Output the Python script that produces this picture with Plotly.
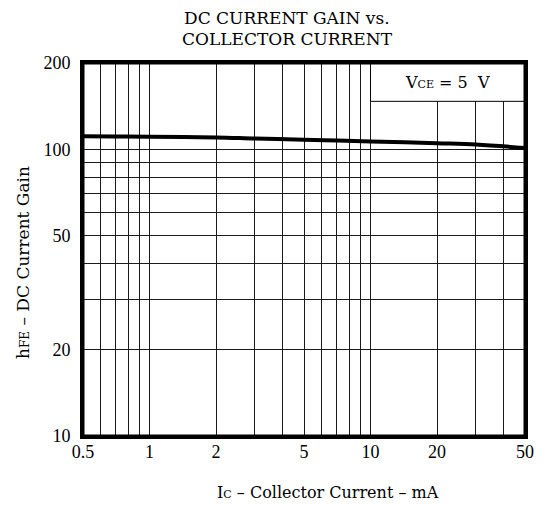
import plotly.graph_objects as go
import numpy as np

# Data
ic_ma = [0.5, 0.7, 1, 2, 3, 5, 7, 10, 20, 30, 50]
hfe = [111, 110.8, 110.5, 110, 109, 108, 107.3, 106.5, 105, 104, 101]

x_ticks = [0.5, 1, 2, 5, 10, 20, 50]
x_tick_text = ["0.5", "1", "2", "5", "10", "20", "50"]
x_minor = [0.6, 0.7, 0.8, 0.9, 3, 4, 6, 7, 8, 9, 30, 40]
y_ticks = [10, 20, 50, 100, 200]
y_tick_text = ["10", "20", "50", "100", "200"]
y_minor = [30, 40, 60, 70, 80, 90]
title_lines = ["DC CURRENT GAIN vs.", "COLLECTOR CURRENT"]

TICKFONT = "Liberation Serif, Times New Roman, serif"
FONT = "DejaVu Serif, Liberation Serif, serif"
GRID = "#1a1a1a"

# plot area in screen pixels (intended)
PL, PR, PT, PB = 82, 524, 62, 435
OFF = 7  # page offset of the rendered figure
PW, PH = PR - PL, PB - PT

def px(x):
    return (x - PL) / PW

def py(y):
    return (PB - y) / PH

fig = go.Figure()
fig.add_trace(go.Scatter(x=ic_ma, y=hfe, mode="lines",
                         line=dict(color="black", width=4, shape="spline"),
                         showlegend=False, hoverinfo="skip"))

xr = [np.log10(0.5), np.log10(50)]
yr = [np.log10(10), np.log10(200)]

fig.update_layout(
    width=555, height=506,
    margin=dict(l=PL - OFF, r=555 - PR + OFF, t=PT - OFF, b=506 - PB + OFF, autoexpand=False),
    paper_bgcolor="white", plot_bgcolor="white",
    font=dict(family=FONT, color="black", size=16),
    xaxis=dict(type="log", range=xr, tickmode="array", tickvals=x_ticks,
               ticktext=x_tick_text, ticks="",
               showgrid=True, gridcolor=GRID,
               gridwidth=1, showline=True, linecolor="black", linewidth=3,
               mirror=True, zeroline=False, automargin=False,
               minor=dict(tickmode="array", tickvals=x_minor, showgrid=True,
                          gridcolor=GRID, gridwidth=1, ticks=""),
               tickfont=dict(family=TICKFONT, size=18)),
    yaxis=dict(type="log", range=yr, tickmode="array", tickvals=y_ticks,
               ticktext=y_tick_text, ticks="outside", ticklen=6, tickcolor="rgba(0,0,0,0)",
               showgrid=True, gridcolor=GRID,
               gridwidth=1, showline=True, linecolor="black", linewidth=3,
               mirror=True, zeroline=False, automargin=False,
               minor=dict(tickmode="array", tickvals=y_minor, showgrid=True,
                          gridcolor=GRID, gridwidth=1, ticks=""),
               tickfont=dict(family=TICKFONT, size=18)),
)
try:
    fig.update_xaxes(ticklabelstandoff=-3)
except Exception:
    pass

# Title (two single-line annotations)
for line, ypx in zip(title_lines, [17, 38]):
    fig.add_annotation(xref="paper", yref="paper", x=px(286), y=py(ypx),
                       text=line, showarrow=False,
                       font=dict(family=FONT, size=17, color="black"),
                       xanchor="center", yanchor="middle", align="center",
                       borderpad=0)
# Axis titles
fig.add_annotation(xref="paper", yref="paper", x=px(327), y=py(492),
                   text="I<span style='font-size:11px'>C</span> – Collector Current – mA",
                   showarrow=False, font=dict(family=FONT, size=16, color="black"),
                   xanchor="center", yanchor="middle")
fig.add_annotation(xref="paper", yref="paper", x=px(22), y=py(262),
                   text="h<span style='font-size:12px'>FE</span> – DC Current Gain",
                   showarrow=False, textangle=-90,
                   font=dict(family=FONT, size=17, color="black"),
                   xanchor="center", yanchor="middle")

# Condition box (upper right), in paper coordinates
bx0 = (np.log10(10) - xr[0]) / (xr[1] - xr[0])
by0 = (np.log10(147) - yr[0]) / (yr[1] - yr[0])
fig.add_shape(type="rect", xref="paper", yref="paper", x0=bx0, x1=1, y0=by0, y1=1,
              fillcolor="white", line=dict(color="black", width=1), layer="above")
fig.add_annotation(xref="paper", yref="paper", x=(bx0 + 1) / 2, y=(by0 + 1) / 2,
                   text="V<span style='font-size:11px'>CE</span> = 5  V", showarrow=False,
                   font=dict(family=FONT, size=16, color="black"),
                   xanchor="center", yanchor="middle")
# redraw frame on top of the box
fig.add_shape(type="rect", xref="paper", yref="paper", x0=0, x1=1, y0=0, y1=1,
              line=dict(color="black", width=3), layer="above")

fig.write_html("out.html")
